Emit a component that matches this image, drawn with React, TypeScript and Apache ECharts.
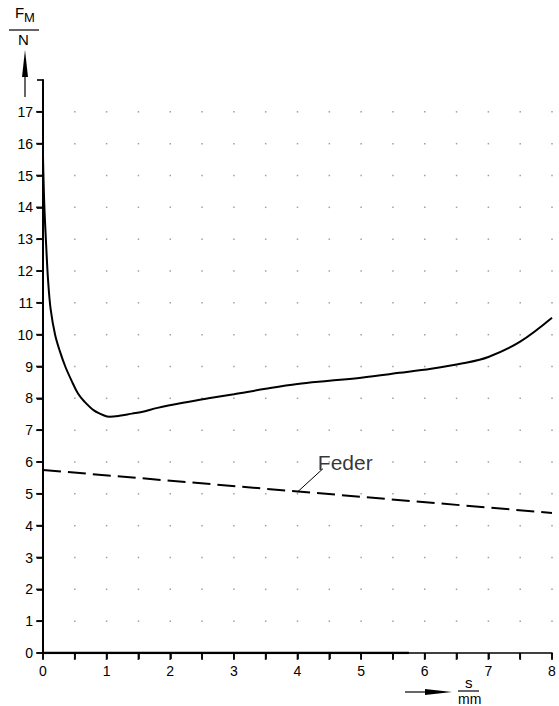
import React, { useEffect, useRef } from "react";
import * as echarts from "echarts";

const curveX = [0, 0.02, 0.05, 0.08, 0.12, 0.19, 0.27, 0.35, 0.45, 0.55, 0.65, 0.8, 0.95, 1.05, 1.2, 1.4, 1.55, 1.8, 2.2, 2.6, 3.0, 3.5, 4.0, 4.5, 5.0, 5.6, 6.1, 6.6, 7.0, 7.5, 8.0];
const curveY = [15.6, 14.1, 12.8, 11.7, 10.8, 10.0, 9.45, 9.0, 8.55, 8.15, 7.9, 7.62, 7.47, 7.42, 7.45, 7.52, 7.57, 7.7, 7.86, 8.0, 8.13, 8.3, 8.45, 8.55, 8.65, 8.8, 8.93, 9.1, 9.3, 9.78, 10.53];
const federX = [0, 8];
const federY = [5.75, 4.4];
const leaderX = [4.0, 4.4];
const leaderY = [5.06, 5.79];
const xTicks = [0, 1, 2, 3, 4, 5, 6, 7, 8];
const xMinorTicks = [0, 0.5, 1, 1.5, 2, 2.5, 3, 3.5, 4, 4.5, 5, 5.5, 6, 6.5, 7, 7.5, 8];
const yTicks = [0, 1, 2, 3, 4, 5, 6, 7, 8, 9, 10, 11, 12, 13, 14, 15, 16, 17];
const xDotTicks = [0.5, 1, 1.5, 2, 2.5, 3, 3.5, 4, 4.5, 5, 5.5, 6, 6.5, 7, 7.5, 8];
const yDotTicks = [1, 2, 3, 4, 5, 6, 7, 8, 9, 10, 11, 12, 13, 14, 15, 16, 17];
const thickAxisEnd = 5.75;

const FONT = "'Liberation Sans', Arial, sans-serif";

export default function App() {
  const ref = useRef<HTMLDivElement>(null);
  useEffect(() => {
    if (!ref.current) return;
    const chart = echarts.init(ref.current, null, { renderer: "svg" });
    const dots: number[][] = [];
    xDotTicks.forEach((x) => yDotTicks.forEach((y) => dots.push([x, y])));
    chart.setOption({
      animation: false,
      backgroundColor: "#fff",
      grid: { left: 43, right: 7, top: 80, bottom: 53, containLabel: false },
      xAxis: {
        type: "value",
        min: 0,
        max: 8,
        interval: 0.5,
        axisLine: { show: true, lineStyle: { color: "#000", width: 1.7 } },
        axisTick: { show: true, length: 6, lineStyle: { color: "#000", width: 1.6 } },
        splitLine: { show: false },
        axisLabel: {
          margin: 11,
          color: "#000",
          fontSize: 14,
          fontFamily: FONT,
          formatter: (v: number) => (xTicks.includes(v) ? String(v) : ""),
        },
      },
      yAxis: {
        type: "value",
        min: 0,
        max: 18,
        interval: 1,
        axisLine: { show: true, onZero: false, lineStyle: { color: "#000", width: 2 } },
        axisTick: { show: true, length: 6, lineStyle: { color: "#000", width: 1.6 } },
        splitLine: { show: false },
        axisLabel: {
          margin: 10,
          color: "#000",
          fontSize: 14,
          fontFamily: FONT,
          formatter: (v: number) => (v >= 18 ? "" : String(v)),
        },
      },
      series: [
        {
          type: "scatter",
          data: dots,
          symbol: "rect",
          symbolSize: 1.5,
          itemStyle: { color: "#888" },
          silent: true,
          z: 1,
        },
        {
          type: "scatter",
          data: xMinorTicks.map((v) => [v, 0]),
          symbol: "rect",
          symbolSize: [1.8, 7],
          symbolOffset: [0, 3.5],
          itemStyle: { color: "#000" },
          clip: false,
          silent: true,
          z: 10,
        },
        {
          type: "scatter",
          data: yTicks.map((v) => [0, v]),
          symbol: "rect",
          symbolSize: [7, 1.8],
          symbolOffset: [-3.5, 0],
          itemStyle: { color: "#000" },
          clip: false,
          silent: true,
          z: 10,
        },
        {
          type: "line",
          data: [[0, 0], [thickAxisEnd, 0]],
          showSymbol: false,
          lineStyle: { color: "#000", width: 2.6 },
          silent: true,
          z: 3,
        },
        {
          type: "line",
          data: curveX.map((x, i) => [x, curveY[i]]),
          smooth: 0.35,
          showSymbol: false,
          lineStyle: { color: "#000", width: 2 },
          z: 4,
        },
        {
          type: "line",
          data: federX.map((x, i) => [x, federY[i]]),
          showSymbol: false,
          lineStyle: { color: "#000", width: 2, type: [18, 7] },
          z: 4,
        },
        {
          type: "line",
          data: leaderX.map((x, i) => [x, leaderY[i]]),
          showSymbol: false,
          lineStyle: { color: "#000", width: 1 },
          z: 4,
        },
        {
          type: "scatter",
          data: [[4.32, 6.0]],
          symbolSize: 0,
          label: {
            show: true,
            position: "right",
            distance: 0,
            formatter: "Feder",
            color: "#000",
            fontSize: 21,
            fontFamily: FONT,
          },
          z: 5,
        },
      ],
      graphic: [
        { type: "text", left: 15, top: 5, style: { text: "F", fontSize: 15, fontFamily: FONT, fill: "#000" } },
        { type: "text", left: 24, top: 11, style: { text: "M", fontSize: 13, fontFamily: FONT, fill: "#000" } },
        { type: "line", shape: { x1: 9, y1: 30, x2: 39, y2: 30 }, style: { stroke: "#000", lineWidth: 1.2 } },
        { type: "text", left: 18, top: 32, style: { text: "N", fontSize: 15, fontFamily: FONT, fill: "#000" } },
        { type: "polygon", shape: { points: [[25, 50], [22, 77], [28, 77]] }, style: { fill: "#000" } },
        { type: "line", shape: { x1: 25, y1: 76, x2: 25, y2: 97 }, style: { stroke: "#000", lineWidth: 1.2 } },
        { type: "line", shape: { x1: 405, y1: 692, x2: 428, y2: 692 }, style: { stroke: "#000", lineWidth: 1.2 } },
        { type: "polygon", shape: { points: [[452, 692], [425, 689], [425, 695]] }, style: { fill: "#000" } },
        { type: "text", left: 465, top: 675, style: { text: "s", fontSize: 15, fontFamily: FONT, fill: "#000" } },
        { type: "line", shape: { x1: 458, y1: 691, x2: 479, y2: 691 }, style: { stroke: "#000", lineWidth: 1.2 } },
        { type: "text", left: 458, top: 692, style: { text: "mm", fontSize: 14, fontFamily: FONT, fill: "#000" } },
      ],
    });
    return () => chart.dispose();
  }, []);
  return <div ref={ref} style={{ position: "fixed", left: 0, top: 0, width: 559, height: 706 }} />;
}
